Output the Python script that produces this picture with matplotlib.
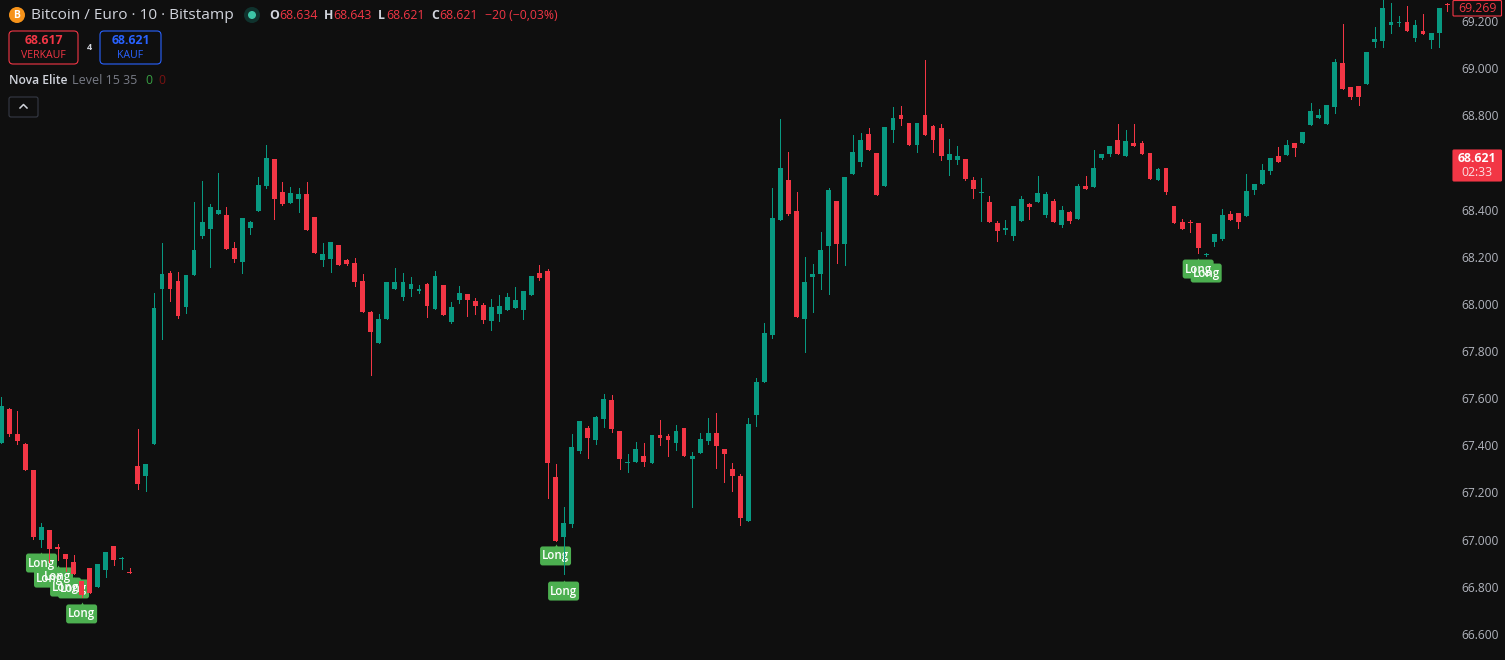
import matplotlib
matplotlib.use("Agg")
import matplotlib.pyplot as plt
import numpy as np
from matplotlib.patches import Circle, FancyBboxPatch
from matplotlib.ticker import FuncFormatter
from matplotlib.transforms import IdentityTransform

plt.rcParams["font.family"] = ["Open Sans", "DejaVu Sans"]

BG = "#0F0F0F"
GREEN = "#089981"
RED = "#F23645"
BLUE = "#2962FF"
LABEL_GREEN = "#4CAF50"
AXIS_TEXT = "#B2B5BE"

opens = np.array([
    67410, 67554, 67448, 67406, 67295, 66998, 67041, 66969, 66939, 66905,
    66825, 66880, 66799, 66871, 66973, 66918, 66863, 67312, 67270, 67406,
    68063, 68131, 68097, 67987, 68122, 68288, 68318, 68381, 68377, 68237,
    68178, 68322, 68394, 68500, 68615, 68475, 68428, 68445, 68466, 68369,
    68186, 68190, 68250, 68186, 68173, 68097, 67966, 67834, 67936, 68063,
    68029, 68063, 68055, 68084, 67978, 68080, 67923, 68016, 68042, 68012,
    67995, 67927, 67957, 67974, 67983, 67974, 68038, 68131, 68139, 67266,
    67011, 67066, 67376, 67474, 67423, 67512, 67592, 67461, 67325, 67329,
    67355, 67325, 67444, 67440, 67410, 67474, 67342, 67367, 67418, 67452,
    67384, 67300, 67270, 67079, 67529, 67669, 67868, 68356, 68525, 68394,
    67936, 68114, 68127, 68246, 68436, 68254, 68551, 68602, 68721, 68640,
    68500, 68738, 68801, 68767, 68674, 68801, 68755, 68746, 68610, 68610,
    68615, 68525, 68470, 68432, 68343, 68313, 68288, 68352, 68424, 68432,
    68377, 68436, 68335, 68390, 68360, 68500, 68496, 68619, 68636, 68695,
    68627, 68682, 68682, 68640, 68525, 68576, 68415, 68347, 68347, 68343,
    68207, 68262, 68275, 68381, 68386, 68373, 68483, 68509, 68564, 68627,
    68632, 68682, 68682, 68759, 68788, 68763, 68835, 69022, 68920, 68924,
    68933, 69111, 69115, 69183, 69191, 69196, 69128, 69158, 69119, 69149, 69272,
])
highs = np.array([
    67605, 67558, 67546, 67410, 67295, 67071, 67041, 66981, 66939, 66935,
    66825, 66880, 66897, 66947, 66973, 66926, 66880, 67469, 67321, 68046,
    68258, 68139, 68135, 68122, 68432, 68521, 68424, 68555, 68411, 68262,
    68364, 68352, 68538, 68674, 68615, 68517, 68496, 68492, 68517, 68369,
    68258, 68262, 68250, 68190, 68195, 68127, 67970, 67957, 68093, 68152,
    68131, 68114, 68080, 68089, 68139, 68080, 68008, 68076, 68042, 68025,
    68004, 68021, 68038, 68046, 68072, 68055, 68118, 68165, 68148, 67321,
    67138, 67448, 67503, 67482, 67524, 67618, 67613, 67461, 67363, 67414,
    67410, 67444, 67507, 67448, 67486, 67474, 67372, 67452, 67516, 67537,
    67384, 67325, 67278, 67516, 67686, 67919, 68492, 68784, 68644, 68475,
    68199, 68169, 68305, 68492, 68436, 68538, 68716, 68725, 68746, 68640,
    68750, 68835, 68839, 68767, 68767, 69034, 68759, 68763, 68699, 68670,
    68615, 68538, 68534, 68458, 68352, 68356, 68415, 68458, 68428, 68542,
    68475, 68445, 68415, 68394, 68509, 68542, 68653, 68636, 68670, 68763,
    68738, 68763, 68691, 68640, 68576, 68576, 68415, 68360, 68356, 68343,
    68216, 68296, 68402, 68394, 68386, 68551, 68509, 68593, 68619, 68665,
    68695, 68682, 68729, 68852, 68827, 68844, 69039, 69187, 68920, 68924,
    69068, 69174, 69290, 69276, 69221, 69264, 69204, 69230, 69149, 69255, 69276,
])
lows = np.array([
    67410, 67440, 67406, 67295, 67003, 66969, 66905, 66914, 66867, 66854,
    66757, 66774, 66799, 66841, 66892, 66875, 66858, 67215, 67206, 67406,
    67851, 68012, 67940, 67961, 68122, 68279, 68156, 68381, 68233, 68178,
    68131, 68296, 68394, 68492, 68360, 68419, 68428, 68390, 68313, 68216,
    68161, 68135, 68165, 68165, 68076, 67966, 67698, 67834, 67936, 68063,
    68016, 68033, 68046, 67944, 67978, 67953, 67919, 68004, 67949, 67957,
    67919, 67889, 67927, 67974, 67983, 67936, 68038, 68101, 67177, 66994,
    66854, 67054, 67367, 67346, 67406, 67478, 67457, 67300, 67287, 67329,
    67312, 67325, 67401, 67355, 67380, 67355, 67138, 67367, 67406, 67304,
    67244, 67206, 67062, 67079, 67482, 67669, 67855, 68356, 68377, 67944,
    67796, 67966, 68063, 68042, 68173, 68165, 68551, 68585, 68653, 68462,
    68500, 68687, 68759, 68674, 68644, 68716, 68644, 68610, 68547, 68593,
    68525, 68449, 68352, 68347, 68267, 68296, 68271, 68352, 68360, 68432,
    68369, 68347, 68326, 68343, 68360, 68487, 68496, 68615, 68627, 68636,
    68627, 68670, 68636, 68530, 68525, 68466, 68343, 68318, 68305, 68216,
    68203, 68246, 68271, 68356, 68322, 68373, 68466, 68509, 68551, 68602,
    68632, 68627, 68682, 68759, 68788, 68763, 68810, 68911, 68869, 68844,
    68933, 69090, 69090, 69149, 69179, 69158, 69115, 69145, 69085, 69090, 69242,
])
closes = np.array([
    67567, 67448, 67418, 67295, 67011, 67054, 66960, 66960, 66918, 66854,
    66765, 66774, 66897, 66947, 66914, 66922, 66858, 67236, 67321, 67983,
    68127, 68063, 67949, 68122, 68229, 68347, 68411, 68398, 68233, 68190,
    68364, 68347, 68504, 68619, 68445, 68424, 68470, 68466, 68313, 68216,
    68212, 68262, 68165, 68169, 68093, 67966, 67881, 67936, 68093, 68093,
    68093, 68084, 68063, 67991, 68118, 67953, 67987, 68046, 68016, 67991,
    67932, 67987, 67991, 68029, 68016, 68055, 68118, 68110, 67325, 66994,
    67071, 67393, 67503, 67431, 67520, 67597, 67469, 67342, 67329, 67384,
    67329, 67444, 67431, 67423, 67461, 67355, 67355, 67427, 67452, 67397,
    67363, 67270, 67092, 67490, 67669, 67876, 68364, 68576, 68381, 67944,
    68093, 68127, 68229, 68483, 68254, 68538, 68644, 68695, 68653, 68462,
    68750, 68788, 68784, 68674, 68767, 68716, 68695, 68627, 68636, 68627,
    68530, 68487, 68475, 68347, 68309, 68322, 68415, 68445, 68411, 68470,
    68466, 68347, 68398, 68352, 68500, 68487, 68576, 68636, 68670, 68636,
    68691, 68670, 68636, 68530, 68572, 68475, 68343, 68318, 68343, 68237,
    68212, 68296, 68377, 68356, 68347, 68479, 68509, 68568, 68619, 68602,
    68674, 68661, 68729, 68818, 68801, 68844, 69026, 68911, 68878, 68878,
    69068, 69124, 69255, 69196, 69196, 69158, 69183, 69145, 69149, 69255, 69268,
])

long_bars = [5, 6, 7, 8, 9, 10, 69, 70, 149, 150]
long_prices = [66939, 66875, 66880, 66837, 66829, 66723, 66969, 66820, 68186, 68169]

price_ticks = np.arange(66600, 69400, 200)

fig = plt.figure(figsize=(15.05, 6.6), dpi=100, facecolor=BG)
ax = fig.add_axes([0, 0, 1, 1], facecolor=BG)
ax.set_xlim(-0.162, 187.2)
ax.set_ylim(66489.4, 69289)

xs = np.arange(len(opens))
colors = [GREEN if c >= o else RED for o, c in zip(opens, closes)]

ax.vlines(xs, lows, highs, colors=colors, linewidth=0.7, antialiased=False, zorder=3)
body_h = np.maximum(np.abs(closes - opens), 4.5)
ax.bar(xs, body_h, bottom=np.minimum(opens, closes), width=0.6, color=colors,
       linewidth=0, antialiased=False, zorder=4)

# green boxes first, all the words stay readable on top of them (candles go over both)
for i, p in zip(long_bars, long_prices):
    px, py = ax.transData.transform((i, p))
    ax.add_patch(FancyBboxPatch((px - 14, py - 17), 28, 16, boxstyle="round,pad=1.5,rounding_size=2.5",
                                fc=LABEL_GREEN, ec="none", transform=IdentityTransform(), zorder=2))
    ax.plot([i], [p + 2], marker="^", ms=3, color=LABEL_GREEN, mew=0, zorder=2)
for i, p in zip(long_bars, long_prices):
    ax.annotate("Long", xy=(i, p), xytext=(0, -6.5), textcoords="offset points",
                ha="center", va="center", color="white", fontsize=8.3, fontweight="semibold",
                zorder=2.5, annotation_clip=False)

ax.yaxis.tick_right()
ax.set_yticks(price_ticks)
ax.yaxis.set_major_formatter(FuncFormatter(lambda v, _: f"{v / 1000:.3f}"))
ax.tick_params(axis="y", length=0, pad=-31.4, labelsize=8.6, labelcolor=AXIS_TEXT)
ax.tick_params(axis="x", bottom=False, labelbottom=False)
for s in ax.spines.values():
    s.set_visible(False)

# overlay in screen pixels for the TradingView header and price tags
ov = fig.add_axes([0, 0, 1, 1], facecolor="none")
ov.set_xlim(0, 1505)
ov.set_ylim(660, 0)
ov.axis("off")


def box(x0, y0, x1, y1, ec, fc="none", r=4, lw=0.8):
    ov.add_patch(FancyBboxPatch((x0, y0), x1 - x0, y1 - y0, boxstyle=f"round,pad=0,rounding_size={r}",
                                ec=ec, fc=fc, lw=lw))


def label(x, y, s, color, size=8.6, weight="normal", ha="left"):
    ov.text(x, y, s, color=color, fontsize=size, fontweight=weight, ha=ha, va="center")


ov.add_patch(Circle((17, 15), 8, fc="#F7931A", ec="none"))
label(17, 15, "B", "white", size=7.5, weight="bold", ha="center")
label(31, 15.5, "Bitcoin / Euro · 10 · Bitstamp", "#D1D4DC", size=11.1, weight="medium")
ov.add_patch(Circle((252, 15), 8, fc="#10332E", ec="none"))
ov.add_patch(Circle((252, 15), 4, fc="#3CC4A6", ec="none"))

for x, letter, vx, val in [(269, "O", 279, "68.634"), (324, "H", 333, "68.643"),
                           (378, "L", 386, "68.621"), (431, "C", 439, "68.621")]:
    label(x, 15.5, letter, "#D1D4DC", size=8.8, weight="bold")
    label(vx, 15.5, val, RED, size=8.8)
label(485, 15.5, "−20 (−0,03%)", RED, size=8.8)

box(9, 31, 78, 64, RED)
label(43.5, 41, "68.617", RED, size=8.8, weight="bold", ha="center")
label(43.5, 55, "VERKAUF", RED, size=7.6, ha="center")
label(89, 47, "4", "#D1D4DC", size=6.5, weight="bold", ha="center")
box(100, 31, 161, 64, BLUE)
label(130.5, 41, "68.621", BLUE, size=8.8, weight="bold", ha="center")
label(130.5, 55, "KAUF", BLUE, size=7.6, ha="center")

label(9, 81, "Nova Elite", "#D1D4DC", size=8.7, weight="semibold")
label(72, 81, "Level 15 35", "#787B86", size=9.0)
label(145, 81, "0", "#38A043", size=8.8)
label(158, 81, "0", "#7A1212", size=8.8)

box(9, 97, 38, 117, "#363A45", r=2)
ov.plot([20, 23.5, 27], [108, 104.5, 108], color="#D1D4DC", lw=1.1)

box(1453, 0.5, 1501.5, 16, RED, fc=BG, r=1)
label(1477, 8, "69.269", RED, size=8.8, ha="center")
box(1453, 150, 1501.5, 181, RED, fc=RED, r=1)
label(1477, 159, "68.621", "white", size=8.8, weight="bold", ha="center")
label(1477, 173, "02:33", "#FBE0E3", size=8.8, ha="center")

fig.savefig("out.png", dpi=100, facecolor=BG)
